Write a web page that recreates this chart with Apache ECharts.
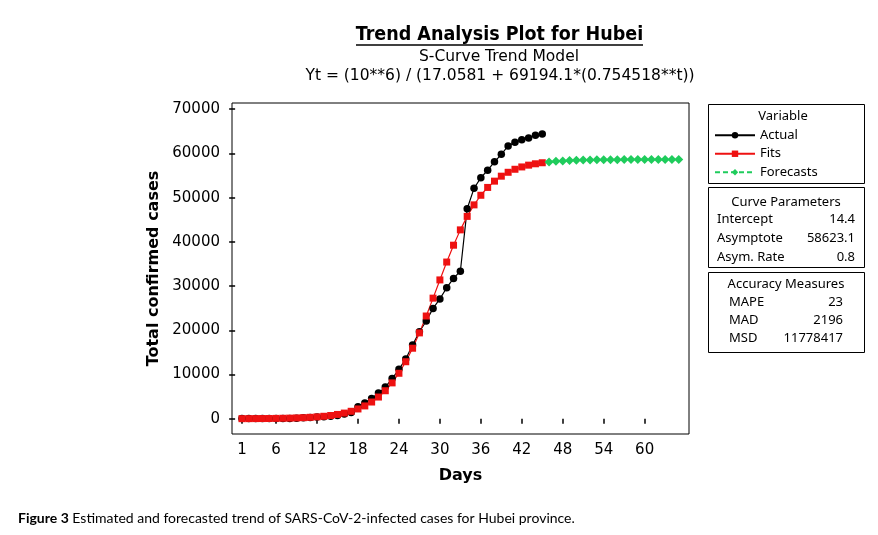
<!DOCTYPE html>
<html>
<head>
<meta charset="utf-8">
<script src="https://cdn.jsdelivr.net/npm/echarts@6/dist/echarts.min.js"></script>
<style>
html,body{margin:0;padding:0;background:#fff;}
#chart{width:878px;height:535px;}
</style>
</head>
<body>
<div id="chart"></div>
<script>
// ---- data ----
const actualStartDay = 1;
const actualValues = [41, 41, 41, 41, 41, 41, 45, 62, 121, 198, 270, 375, 444, 549, 729, 1052, 1423,
  2714, 3554, 4586, 5806, 7153, 9074, 11177, 13522, 16678, 19665, 22112, 24953, 27100, 29631, 31728, 33366,
  47500, 52100, 54500, 56200, 58100, 59800, 61700, 62500, 63100, 63500, 64100, 64400];
const fitValues = [19, 25, 34, 45, 59, 78, 104, 137, 182, 241,
  319, 422, 557, 736, 972, 1281, 1686, 2214, 2898, 3781,
  4908, 6332, 8108, 10283, 12892, 15946, 19415, 23229, 27271, 31393,
  35433, 39244, 42710, 45758, 48364, 50535, 52307, 53728, 54852, 55732,
  56415, 56942, 57345, 57654, 57889];
const forecastStartDay = 46;
const forecastValues = [58067, 58203, 58305, 58384, 58442, 58486, 58520, 58545, 58564, 58579,
  58590, 58598, 58604, 58609, 58612, 58615, 58617, 58618, 58619, 58620];
const xTicks = [1, 6, 12, 18, 24, 30, 36, 42, 48, 54, 60];
const yTicks = [0, 10000, 20000, 30000, 40000, 50000, 60000, 70000];
const seriesNames = ['Actual', 'Fits', 'Forecasts'];
const curveParams = [['Intercept', '14.4'], ['Asymptote', '58623.1'], ['Asym. Rate', '0.8']];
const accuracy = [['MAPE', '23'], ['MAD', '2196'], ['MSD', '11778417']];

const toPairs = (start, vals) => vals.map((v, i) => [start + i, v]);

const FONT = 'DejaVu Sans';
const SMALL = 'Noto Sans';
const chart = echarts.init(document.getElementById('chart'), null, {renderer: 'canvas'});

const graphics = [];
// title
graphics.push({type: 'text', x: 499.5, y: 35, style: {text: 'Trend Analysis Plot for Hubei', font: 'bold 19.5px "DejaVu Sans Condensed", "DejaVu Sans"', fill: '#000', align: 'center', verticalAlign: 'middle'}});
graphics.push({type: 'line', shape: {x1: 356, y1: 45, x2: 643, y2: 45}, style: {stroke: '#000', lineWidth: 1.5}});
graphics.push({type: 'text', x: 499, y: 57, style: {text: 'S-Curve Trend Model', font: '15.5px "DejaVu Sans"', fill: '#000', align: 'center', verticalAlign: 'middle'}});
graphics.push({type: 'text', x: 500, y: 76, style: {text: 'Yt = (10**6) / (17.0581 + 69194.1*(0.754518**t))', font: '15.5px "DejaVu Sans"', fill: '#000', align: 'center', verticalAlign: 'middle'}});
// panels
[[104.5, 79], [187.5, 80], [272.5, 80]].forEach(([y, h]) => {
  graphics.push({type: 'rect', shape: {x: 708.5, y: y, width: 156, height: h}, style: {fill: 'none', stroke: '#000', lineWidth: 1}});
});
const txt = (x, y, t, align) => ({type: 'text', x: x, y: y, style: {text: t, font: '13px "' + SMALL + '"', fill: '#000', align: align, verticalAlign: 'middle'}});
graphics.push(txt(783, 116, 'Variable', 'center'));
graphics.push(txt(786, 202, 'Curve Parameters', 'center'));
curveParams.forEach(([k, v], i) => {
  graphics.push(txt(717, 219 + i * 19, k, 'left'));
  graphics.push(txt(855, 219 + i * 19, v, 'right'));
});
graphics.push(txt(786, 284, 'Accuracy Measures', 'center'));
accuracy.forEach(([k, v], i) => {
  graphics.push(txt(729, 302 + i * 18, k, 'left'));
  graphics.push(txt(843, 302 + i * 18, v, 'right'));
});
// caption
graphics.push({type: 'text', x: 18, y: 518, style: {
  text: '{b|Figure 3} Estimated and forecasted trend of SARS-CoV-2-infected cases for Hubei province.',
  font: '14px Lato', fill: '#000', verticalAlign: 'middle',
  rich: {b: {fontFamily: 'Lato', fontWeight: 'bold', fontSize: 14}}
}});

const option = {
  animation: false,
  backgroundColor: '#fff',
  graphic: graphics,
  legend: {
    data: seriesNames,
    orient: 'vertical',
    left: 714, top: 128,
    itemWidth: 40, itemHeight: 8, itemGap: 4,
    padding: 0,
    textStyle: {fontFamily: SMALL, fontSize: 13, color: '#000', lineHeight: 14.5}
  },
  grid: {left: 232, top: 103, width: 457, height: 331, show: true, borderColor: '#000', borderWidth: 1, backgroundColor: '#fff'},
  xAxis: {
    type: 'value', min: -0.46, max: 66.5,
    name: 'Days', nameLocation: 'middle', nameGap: 34,
    nameTextStyle: {fontFamily: FONT, fontWeight: 'bold', fontSize: 16, color: '#000'},
    axisLine: {show: false},
    axisTick: {show: true, length: 5, customValues: xTicks, lineStyle: {color: '#000', width: 1.5}},
    axisLabel: {customValues: xTicks, fontFamily: FONT, fontSize: 15, color: '#000', margin: 9},
    splitLine: {show: false}
  },
  yAxis: {
    type: 'value', min: -3450, max: 71400,
    name: 'Total confirmed cases', nameLocation: 'middle', nameGap: 66,
    nameTextStyle: {fontFamily: FONT, fontWeight: 'bold', fontSize: 16, color: '#000'},
    axisLine: {show: false},
    axisTick: {show: true, length: 6, customValues: yTicks, lineStyle: {color: '#000', width: 1.5}},
    axisLabel: {customValues: yTicks, formatter: v => String(v), fontFamily: FONT, fontSize: 15, color: '#000', margin: 12},
    splitLine: {show: false}
  },
  series: [
    {name: seriesNames[0], type: 'line', data: toPairs(actualStartDay, actualValues),
     symbol: 'circle', symbolSize: 7.5, color: '#000',
     lineStyle: {color: '#000', width: 1.2}, itemStyle: {color: '#000'}},
    {name: seriesNames[1], type: 'line', data: toPairs(actualStartDay, fitValues),
     symbol: 'rect', symbolSize: 7, color: '#ee1111',
     lineStyle: {color: '#ee1111', width: 1.2}, itemStyle: {color: '#ee1111'}},
    {name: seriesNames[2], type: 'line', data: toPairs(forecastStartDay, forecastValues),
     symbol: 'diamond', symbolSize: [9, 9], color: '#1fcc5c',
     lineStyle: {color: '#1fcc5c', width: 1.2, type: [5, 3]}, itemStyle: {color: '#1fcc5c'}}
  ]
};
chart.setOption(option);
</script>
</body>
</html>
